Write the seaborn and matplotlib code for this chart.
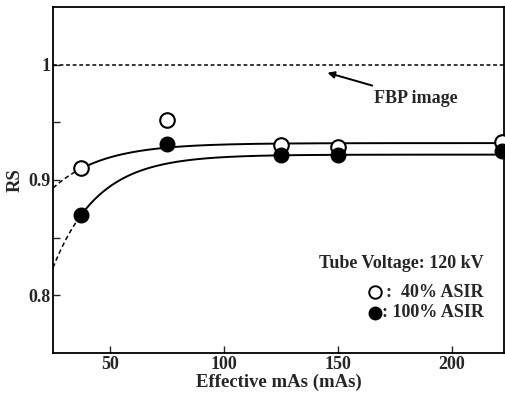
import numpy as np
import pandas as pd
import matplotlib
matplotlib.use("Agg")
import matplotlib.pyplot as plt
import seaborn as sns

# ---- data ----
mas = [37.5, 75, 125, 150, 222]
rs_40 = [0.910, 0.952, 0.930, 0.929, 0.933]
rs_100 = [0.870, 0.931, 0.922, 0.922, 0.925]
series_names = ["40% ASIR", "100% ASIR"]

# fitted saturating curves  y = plateau - amp * exp(-x / scale)
fit_plateau = [0.932, 0.922]
fit_amp = [0.1228, 0.349]
fit_scale = [21.8, 19.7]
fit_start = 37.5
x_min, x_max = 25, 223
y_min, y_max = 0.75, 1.05
fbp_level = 1.0

x_ticks = [50, 100, 150, 200]
y_ticks = [0.8, 0.9, 1.0]
y_tick_labels = ["0.8", "0.9", "1"]
y_minor = [0.85, 0.95]

sns.set_style("ticks")
plt.rcParams["font.family"] = ["Liberation Serif", "DejaVu Serif"]
plt.rcParams["font.weight"] = "bold"

FS = 13

fig = plt.figure(figsize=(5.06, 4.01), dpi=100)
ax = fig.add_axes([53 / 506, 48 / 401, 451 / 506, 346 / 401])

pts = pd.DataFrame({
    "mAs": mas * 2,
    "RS": rs_40 + rs_100,
    "series": [series_names[0]] * len(mas) + [series_names[1]] * len(mas),
})

# fit curves
curve_rows = []
for name, a, b, c in zip(series_names, fit_plateau, fit_amp, fit_scale):
    for part, xs in (("solid", np.linspace(fit_start, x_max, 200)),
                     ("dashed", np.linspace(x_min, fit_start, 40))):
        for xv in xs:
            curve_rows.append({"mAs": xv, "RS": a - b * np.exp(-xv / c),
                               "series": name, "part": part})
curves = pd.DataFrame(curve_rows)

for name in series_names:
    sub = curves[(curves.series == name) & (curves.part == "solid")]
    sns.lineplot(data=sub, x="mAs", y="RS", ax=ax, color="black",
                 linewidth=1.4, estimator=None, sort=True, legend=False)
    sub = curves[(curves.series == name) & (curves.part == "dashed")]
    sns.lineplot(data=sub, x="mAs", y="RS", ax=ax, color="black",
                 linewidth=1.1, linestyle=(0, (3, 2)), estimator=None,
                 sort=True, legend=False)

# FBP reference line
ax.axhline(fbp_level, color="black", linewidth=1.1, linestyle=(0, (2.5, 1.8)))

# points
sns.scatterplot(data=pts[pts.series == series_names[0]], x="mAs", y="RS",
                ax=ax, s=110, facecolor="white", edgecolor="black",
                linewidth=1.5, zorder=5, legend=False, clip_on=False)
sns.scatterplot(data=pts[pts.series == series_names[1]], x="mAs", y="RS",
                ax=ax, s=110, color="black", edgecolor="black",
                linewidth=1.0, zorder=6, legend=False, clip_on=False)

ax.set_xlim(x_min, x_max)
ax.set_ylim(y_min, y_max)
ax.set_xticks(x_ticks)
ax.set_xticklabels([str(t) for t in x_ticks], fontsize=FS, fontweight="bold")
ax.set_yticks(y_ticks)
ax.set_yticklabels(y_tick_labels, fontsize=FS, fontweight="bold")
ax.set_yticks(y_minor, minor=True)
ax.tick_params(axis="both", which="both", direction="in", length=5,
               width=1.0, pad=2)
for sp in ax.spines.values():
    sp.set_visible(True)
    sp.set_linewidth(1.3)
    sp.set_color("black")

ax.set_xlabel("Effective mAs (mAs)", fontsize=FS + 0.5, fontweight="bold",
              labelpad=1)
ax.set_ylabel("RS", fontsize=FS + 0.5, fontweight="bold", labelpad=3)

# annotations
ax.annotate("FBP image", xy=(145.5, 0.993), xytext=(166, 0.971),
            fontsize=FS, fontweight="bold", va="center", ha="left",
            arrowprops=dict(arrowstyle="-|>", color="black", lw=1.4,
                            shrinkA=2, shrinkB=0, mutation_scale=10))

ax.text(0.955, 0.26, "Tube Voltage: 120 kV", transform=ax.transAxes,
        ha="right", va="center", fontsize=FS, fontweight="bold")
ax.text(0.955, 0.175, ":  40% ASIR", transform=ax.transAxes,
        ha="right", va="center", fontsize=FS, fontweight="bold")
ax.text(0.955, 0.117, ": 100% ASIR", transform=ax.transAxes,
        ha="right", va="center", fontsize=FS, fontweight="bold")
ax.plot([0.713], [0.175], transform=ax.transAxes, marker="o", ms=9,
        mfc="white", mec="black", mew=1.4, linestyle="none", clip_on=False)
ax.plot([0.713], [0.117], transform=ax.transAxes, marker="o", ms=9,
        mfc="black", mec="black", linestyle="none", clip_on=False)

fig.savefig("out.png", dpi=100)
